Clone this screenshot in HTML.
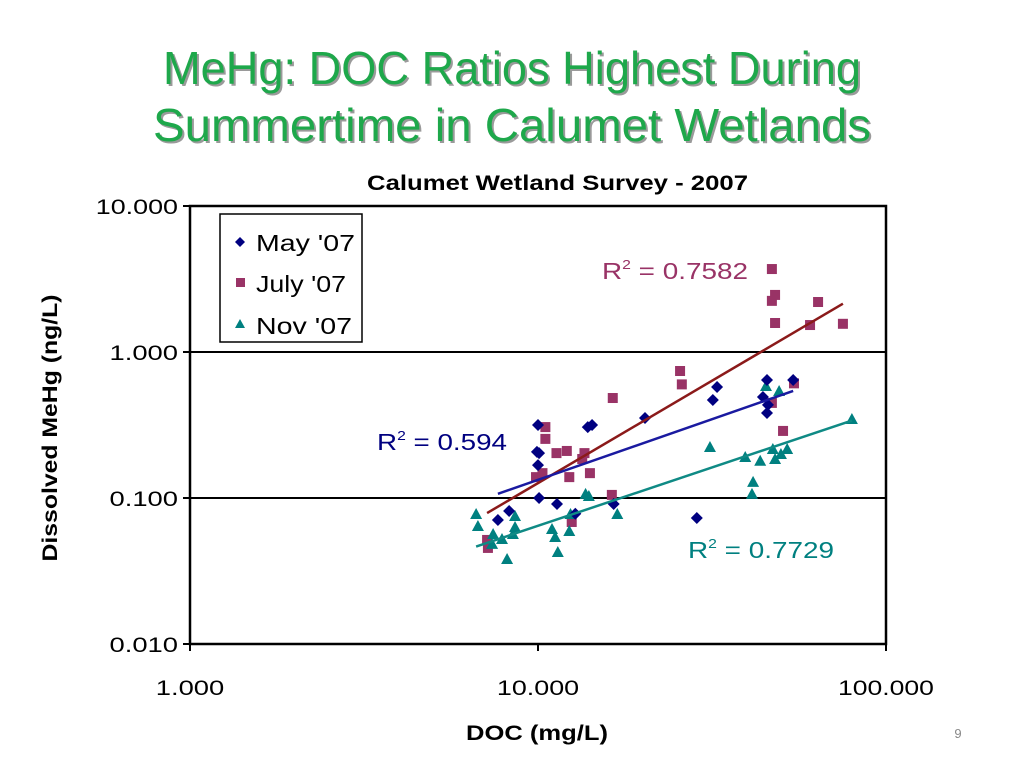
<!DOCTYPE html>
<html><head><meta charset="utf-8"><style>
html,body{margin:0;padding:0;background:#fff;width:1024px;height:768px;overflow:hidden}
svg text{font-family:"Liberation Sans",Arial,sans-serif}
</style></head><body>
<svg id="chart" width="1024" height="768" viewBox="0 0 1024 768">
<g font-size="46" text-anchor="middle">
<text x="514" y="86" fill="#9a9a9a" textLength="698" lengthAdjust="spacingAndGlyphs">MeHg: DOC Ratios Highest During</text>
<text x="512" y="84" fill="#1ea84b" textLength="698" lengthAdjust="spacingAndGlyphs">MeHg: DOC Ratios Highest During</text>
<text x="514" y="143" fill="#9a9a9a" textLength="718" lengthAdjust="spacingAndGlyphs">Summertime in Calumet Wetlands</text>
<text x="512" y="141" fill="#1ea84b" textLength="718" lengthAdjust="spacingAndGlyphs">Summertime in Calumet Wetlands</text>
</g>
<text x="367" y="190" font-size="21" font-weight="bold" textLength="381" lengthAdjust="spacingAndGlyphs">Calumet Wetland Survey - 2007</text>
<text transform="translate(57,428) rotate(-90)" font-size="21" font-weight="bold" text-anchor="middle" textLength="267" lengthAdjust="spacingAndGlyphs">Dissolved MeHg (ng/L)</text>
<text x="537" y="740" font-size="21" font-weight="bold" text-anchor="middle" textLength="142" lengthAdjust="spacingAndGlyphs">DOC (mg/L)</text>
<text x="958" y="738" font-size="13" fill="#888" text-anchor="middle">9</text>
<g id="plot"></g>
<g>
<rect x="220" y="214" width="142" height="128" fill="#fff" stroke="#000" stroke-width="1.5"/>
<path d="M240 237 l5 5 l-5 5 l-5 -5z" fill="#000080"/>
<text x="256" y="251" font-size="23" textLength="99" lengthAdjust="spacingAndGlyphs">May '07</text>
<rect x="236" y="278" width="9" height="9" fill="#993366"/>
<text x="256" y="292" font-size="23" textLength="90" lengthAdjust="spacingAndGlyphs">July '07</text>
<path d="M240 319 l5 9 l-10 0z" fill="#008080"/>
<text x="256" y="334" font-size="23" textLength="96" lengthAdjust="spacingAndGlyphs">Nov '07</text>
</g>
<text x="602" y="279" font-size="23" fill="#993366" textLength="146" lengthAdjust="spacingAndGlyphs">R<tspan font-size="13" dy="-10">2</tspan><tspan dy="10"> = 0.7582</tspan></text>
<text x="377" y="450" font-size="23" fill="#000080" textLength="130" lengthAdjust="spacingAndGlyphs">R<tspan font-size="13" dy="-10">2</tspan><tspan dy="10"> = 0.594</tspan></text>
<text x="688" y="558" font-size="23" fill="#008080" textLength="146" lengthAdjust="spacingAndGlyphs">R<tspan font-size="13" dy="-10">2</tspan><tspan dy="10"> = 0.7729</tspan></text>
</svg>
<script>
const xTicks=[1,10,100];
const xTickLabels=["1.000","10.000","100.000"];
const yTicks=[0.01,0.1,1,10];
const yTickLabels=["0.010","0.100","1.000","10.000"];
const mayDOC=[7.67,8.26,10.0,9.93,10.07,10.0,10.07,11.34,13.9,14.3,12.8,16.5,20.3,32.7,31.8,45.5,44.3,45.8,45.5,54.1,28.6];
const mayMeHg=[0.0707,0.0815,0.316,0.207,0.203,0.168,0.10,0.091,0.306,0.316,0.078,0.091,0.353,0.576,0.469,0.643,0.492,0.434,0.382,0.643,0.073];
const julyDOC=[10.5,10.5,11.3,12.1,13.6,13.4,9.87,10.3,12.3,14.1,16.4,16.3,12.5,7.18,7.14,47.0,48.0,47.0,48.0,63.8,60.5,75.2,25.6,25.9,54.4,47.0,50.6];
const julyMeHg=[0.306,0.254,0.203,0.21,0.203,0.185,0.139,0.148,0.139,0.148,0.484,0.105,0.0685,0.0455,0.0516,3.70,2.46,2.24,1.58,2.20,1.53,1.56,0.741,0.60,0.61,0.448,0.288];
const novDOC=[6.64,6.72,7.43,7.38,7.88,8.15,8.59,8.59,8.47,10.97,11.2,11.4,12.4,12.3,13.7,14.0,16.9,31.2,39.4,43.5,47.3,48.0,49.9,52.0,41.5,41.2,79.8,45.2,49.3];
const novMeHg=[0.0765,0.0633,0.0558,0.0477,0.0516,0.0376,0.0741,0.0623,0.0558,0.0604,0.0532,0.042,0.0765,0.0585,0.105,0.1016,0.0765,0.22,0.188,0.177,0.213,0.182,0.197,0.213,0.127,0.105,0.342,0.576,0.532];

const NS='http://www.w3.org/2000/svg';
const L=190,R=886,T=206,B=644;
const xs=v=>L+(Math.log10(v)-0)/2*(R-L);
const ys=v=>B-(Math.log10(v)+2)/3*(B-T);
const plot=document.getElementById('plot');
function mk(tag,a){const e=document.createElementNS(NS,tag);for(const k in a)e.setAttribute(k,a[k]);plot.appendChild(e);return e;}

yTicks.forEach((v,i)=>{
  if(v>0.01&&v<10){const g=mk('line',{x1:L,x2:R,y1:ys(v),y2:ys(v),stroke:'#000','stroke-width':2});
  
  }
  const t=mk('line',{x1:L-7,x2:L,y1:ys(v),y2:ys(v),stroke:'#000','stroke-width':2});
  
  
  const lab=yTickLabels[i];
  const tx=mk('text',{x:L-12,y:ys(v)+8,'font-size':21,'text-anchor':'end',textLength:lab.length*13.7,lengthAdjust:'spacingAndGlyphs'});tx.textContent=lab;
  
  
});
xTicks.forEach((v,i)=>{
  const t=mk('line',{x1:xs(v),x2:xs(v),y1:B,y2:B+7,stroke:'#000','stroke-width':2});
  
  
  const lab=xTickLabels[i];
  const tx=mk('text',{x:xs(v),y:B+51,'font-size':21,'text-anchor':'middle',textLength:lab.length*13.7,lengthAdjust:'spacingAndGlyphs'});tx.textContent=lab;
  
  
});
const frame=mk('rect',{x:L,y:T,width:R-L,height:B-T,fill:'none',stroke:'#000','stroke-width':2.5});



function trend(X,Y,color,name){
  const lx=X.map(Math.log10),ly=Y.map(Math.log10),n=lx.length;
  const mx=lx.reduce((a,b)=>a+b)/n,my=ly.reduce((a,b)=>a+b)/n;
  let sxy=0,sxx=0;for(let i=0;i<n;i++){sxy+=(lx[i]-mx)*(ly[i]-my);sxx+=(lx[i]-mx)**2;}
  const b=sxy/sxx,a=my-b*mx;
  const x0=Math.min(...X),x1=Math.max(...X);
  const l=mk('line',{x1:xs(x0),y1:ys(Math.pow(10,a+b*Math.log10(x0))),x2:xs(x1),y2:ys(Math.pow(10,a+b*Math.log10(x1))),stroke:color,'stroke-width':2.5});
  
  
}
function pts(X,Y,shape,color,name){
  X.forEach((x,i)=>{
    const cx=xs(x),cy=ys(Y[i]);let e;
    if(shape==='d')e=mk('path',{d:`M${cx} ${cy-6}l6 6l-6 6l-6 -6z`,fill:color});
    else if(shape==='s')e=mk('rect',{x:cx-5,y:cy-5,width:10,height:10,fill:color});
    else e=mk('path',{d:`M${cx} ${cy-7}l6 11h-12z`,fill:color});
    
    
  });
}
pts(julyDOC,julyMeHg,'s','#993366','july-point');
pts(novDOC,novMeHg,'t','#008080','nov-point');
pts(mayDOC,mayMeHg,'d','#000080','may-point');
trend(julyDOC,julyMeHg,'#8b1a1a','july-trendline');
trend(mayDOC,mayMeHg,'#1a1aa0','may-trendline');
trend(novDOC,novMeHg,'#0f8a85','nov-trendline');
</script>
</body></html>
